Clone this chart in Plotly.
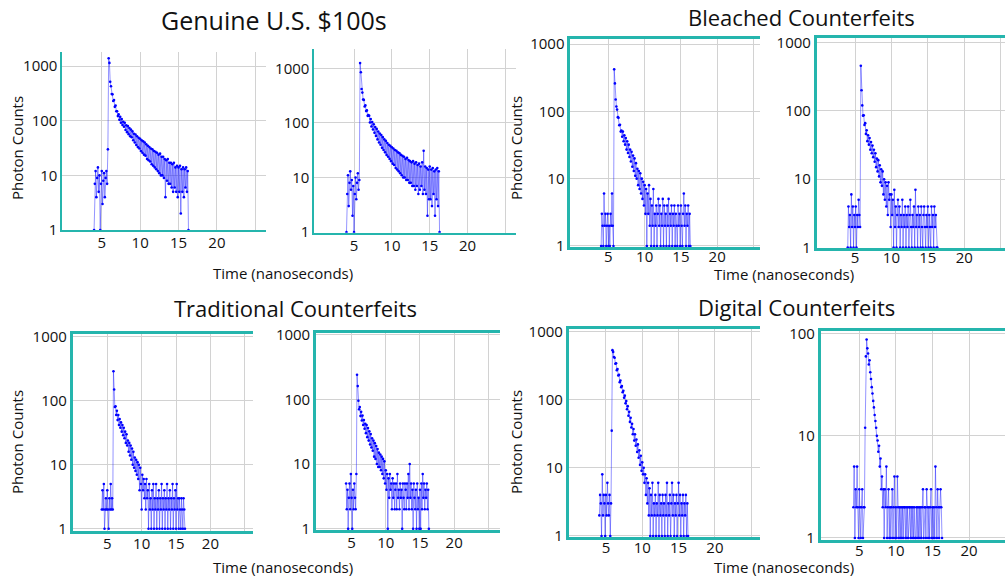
import plotly.graph_objects as go

# ---------------- data (photon counts per 0.1 ns channel) ----------------
TIME_START_NS = 4.0
TIME_STEP_NS = 0.1

genuine_a = [
    1, 7, 12, 4, 9, 14, 5, 10, 1, 7,
    12, 3, 8, 11, 4, 9, 12, 7, 30, 1400,
    1150, 520, 430, 310, 305, 230, 240, 180, 190, 150,
    150, 122, 131, 104, 118, 92, 108, 84, 96, 78,
    92, 68, 83, 62, 80, 57, 74, 52, 69, 50,
    64, 44, 58, 40, 56, 36, 52, 33, 49, 31,
    47, 28, 44, 26, 42, 24, 40, 23, 37, 20,
    35, 19, 33, 18, 31, 16, 30, 15, 28, 14,
    27, 13, 26, 12, 24, 11, 25, 10, 22, 10,
    22, 9, 20, 4, 19, 8, 20, 7, 17, 7,
    17, 6, 16, 5, 17, 6, 14, 5, 15, 4,
    14, 5, 15, 2, 13, 5, 14, 4, 13, 6,
    14, 5, 12, 1,
]
genuine_b = [
    1, 5, 11, 3, 8, 13, 6, 9, 2, 7,
    1, 5, 10, 4, 8, 12, 6, 9, 1250, 850,
    420, 360, 270, 265, 200, 210, 165, 170, 135, 140,
    135, 102, 118, 86, 104, 76, 95, 66, 84, 58,
    78, 50, 70, 44, 64, 40, 60, 35, 55, 32,
    50, 29, 47, 26, 43, 24, 40, 22, 38, 20,
    36, 18, 34, 17, 32, 15, 31, 14, 29, 13,
    28, 12, 26, 11, 25, 10, 24, 10, 22, 9,
    23, 9, 21, 8, 20, 8, 19, 7, 20, 7,
    18, 6, 19, 7, 17, 5, 18, 6, 16, 7,
    19, 5, 31, 6, 16, 5, 15, 2, 14, 4,
    16, 4, 14, 3, 15, 5, 13, 2, 14, 4,
    15, 3, 13, 1,
]
bleached_a = [
    1, 3, 2, 1, 6, 2, 3, 1, 2, 3,
    1, 2, 1, 3, 2, 6, 2, 1, 420, 260,
    150, 118, 106, 82, 80, 62, 63, 50, 52, 42,
    50, 36, 44, 32, 40, 27, 36, 24, 32, 21,
    27, 18, 25, 15, 22, 13, 20, 11, 17, 10,
    14, 8, 13, 7, 12, 6, 10, 5, 9, 4,
    8, 3, 7, 1, 6, 3, 8, 2, 5, 1,
    4, 2, 7, 1, 3, 2, 4, 1, 3, 5,
    2, 4, 1, 3, 2, 5, 1, 4, 2, 3,
    1, 4, 2, 5, 1, 3, 2, 4, 1, 3,
    2, 4, 1, 3, 2, 1, 4, 2, 3, 1,
    4, 2, 1, 3, 6, 2, 4, 1, 3, 2,
    4, 1, 3, 1,
]
bleached_b = [
    1, 4, 2, 3, 1, 6, 2, 4, 1, 3,
    2, 4, 1, 3, 2, 5, 3, 2, 455, 200,
    120, 85, 86, 62, 66, 46, 52, 36, 44, 32,
    40, 27, 35, 24, 31, 21, 27, 18, 24, 15,
    20, 13, 19, 11, 16, 9, 14, 8, 13, 6,
    10, 5, 9, 4, 8, 3, 9, 5, 6, 2,
    6, 3, 5, 1, 7, 2, 4, 1, 3, 5,
    2, 4, 1, 3, 2, 5, 1, 3, 2, 4,
    1, 3, 2, 4, 1, 3, 5, 2, 1, 3,
    2, 4, 1, 7, 2, 3, 1, 4, 2, 3,
    1, 4, 2, 1, 3, 4, 2, 1, 3, 2,
    4, 1, 3, 2, 1, 4, 2, 3, 1, 4,
    2, 3, 1, 1,
]
traditional_a = [
    None, None, 2, 4, 2, 5, 1, 2, 3, 2,
    4, 2, 1, 3, 2, 5, 2, 3, 2, 290,
    150, 80, 82, 60, 70, 50, 60, 42, 52, 38,
    46, 33, 42, 29, 38, 26, 33, 22, 30, 20,
    24, 16, 22, 14, 20, 12, 18, 10, 16, 9,
    13, 8, 12, 7, 11, 6, 10, 4, 9, 5,
    2, 7, 4, 6, 3, 5, 2, 6, 3, 4,
    1, 5, 2, 3, 1, 4, 2, 5, 1, 3,
    2, 5, 1, 3, 2, 4, 1, 3, 2, 5,
    1, 3, 2, 4, 1, 3, 2, 5, 1, 3,
    2, 4, 1, 3, 2, 5, 1, 3, 2, 4,
    1, 5, 2, 3, 1, 3, 2, 1, 3, 2,
    1, 3, 2, 1,
]
traditional_b = [
    None, None, 5, 2, 4, 1, 3, 5, 2, 7,
    3, 1, 4, 2, 5, 3, 2, 7, 240, 160,
    95, 70, 76, 55, 64, 47, 56, 40, 48, 35,
    42, 30, 40, 26, 36, 23, 32, 20, 29, 18,
    25, 16, 23, 13, 21, 12, 19, 10, 17, 9,
    15, 9, 14, 8, 13, 7, 12, 6, 11, 5,
    8, 4, 7, 1, 6, 3, 7, 4, 5, 2,
    6, 3, 5, 2, 4, 5, 2, 7, 3, 4,
    2, 5, 3, 4, 1, 5, 3, 2, 5, 4,
    2, 5, 3, 7, 2, 10, 3, 5, 2, 4,
    1, 5, 3, 2, 4, 1, 5, 2, 3, 1,
    4, 1, 5, 2, 7, 3, 5, 2, 4, 3,
    5, 2, 4, 1,
]
digital_a = [
    None, 2, 4, 3, 1, 8, 2, 4, 3, 1,
    4, 2, 6, 3, 2, 4, 1, 3, 35, 530,
    500, 420, 410, 335, 340, 270, 280, 225, 230, 180,
    190, 152, 158, 128, 134, 106, 114, 88, 95, 72,
    80, 58, 66, 47, 54, 39, 44, 31, 37, 25,
    31, 21, 26, 17, 22, 14, 18, 11, 15, 9,
    12, 8, 10, 6, 8, 4, 7, 3, 6, 2,
    5, 1, 4, 2, 6, 1, 3, 2, 4, 1,
    3, 2, 6, 1, 4, 2, 3, 1, 4, 2,
    3, 1, 4, 2, 6, 1, 3, 2, 4, 1,
    3, 6, 2, 4, 1, 3, 2, 4, 1, 3,
    6, 2, 4, 1, 3, 2, 4, 1, 3, 2,
    4, 1, 3, 1,
]
digital_b = [
    None, None, 2, 5, 1, 3, 2, 5, 2, 1,
    3, 2, 1, 2, 3, 1, 2, 2, 12, 60,
    88, 72, 64, 50, 55, 42, 36, 30, 26, 22,
    19, 16, 14, 12, 10, 9, 7, 8, 5, 6,
    3, 4, 2, 3, 1, 3, 2, 5, 1, 2,
    3, 1, 2, 1, 2, 3, 1, 2, 4, 1,
    2, 1, 4, 2, 1, 2, 1, 2, 1, 2,
    1, 2, 2, 1, 2, 1, 2, 1, 2, 2,
    1, 2, 1, 2, 1, 2, 1, 1, 2, 1,
    2, 1, 2, 1, 2, 1, 2, 3, 1, 2,
    2, 1, 3, 2, 1, 2, 1, 2, 3, 1,
    2, 1, 2, 1, 5, 2, 1, 3, 2, 1,
    2, 3, 2, 1,
]

x_tick_vals = [5, 10, 15, 20, 25]
x_tick_text = ["5", "10", "15", "20", ""]
y_tick_vals = [1, 10, 100, 1000]
y_tick_text = ["1", "10", "100", "1000"]

group_titles = ["Genuine U.S. $100s", "Bleached Counterfeits",
                "Traditional Counterfeits", "Digital Counterfeits"]
x_title = "Time (nanoseconds)"
y_title = "Photon Counts"

# ---------------- layout (pixel geometry) ----------------
W, H = 1006, 578
TEAL = "#25b5ad"
GRID = "#d2d2d2"
FONT = "Open Sans, Noto Sans, sans-serif"

series = [genuine_a, genuine_b, bleached_a, bleached_b,
          traditional_a, traditional_b, digital_a, digital_b]
# (x0px, x1px, top px, bottom px, x-range, log y-range, full box, x-label standoff)
geom = [
    (62.3, 266, 52, 230, [-0.14, 26.4], [0, 3.26], False, -2),
    (314.3, 516, 49.3, 232.7, [-0.25, 26.4], [-0.01, 3.35], False, -2),
    (570.3, 760, 39.3, 247.3, [-0.25, 25.9], [-0.02, 3.07], True, -6),
    (816.7, 1005, 38.3, 248.3, [-0.26, 25.6], [-0.01, 3.06], True, -6),
    (72.7, 253, 334.3, 530.7, [-0.03, 26.2], [-0.03, 3.04], True, -3),
    (316, 500, 332.7, 530, [-0.2, 26.7], [-0.02, 3.03], True, -3),
    (568.7, 760, 329.3, 537.3, [-0.12, 26.2], [-0.02, 3.03], True, -5),
    (820.7, 1005, 330.7, 540, [-0.27, 24.9], [-0.02, 2.03], True, -5),
]

n = len(genuine_a)
time_ns = [round(TIME_START_NS + TIME_STEP_NS * i, 2) for i in range(n)]

fig = go.Figure()
layout_axes = {}
for k, (vals, g) in enumerate(zip(series, geom), start=1):
    x0, x1, top, bot, xr, yr, box, xstand = g
    xa = "x" if k == 1 else f"x{k}"
    ya = "y" if k == 1 else f"y{k}"
    fig.add_trace(go.Scatter(
        x=time_ns, y=vals, xaxis=xa, yaxis=ya,
        mode="lines+markers",
        line=dict(color="rgba(20,20,255,0.5)", width=0.9),
        marker=dict(color="#0000ff", size=2.6),
        showlegend=False, hoverinfo="skip",
    ))
    lw = 2.6 if box else 1.8
    layout_axes["xaxis" if k == 1 else f"xaxis{k}"] = dict(
        domain=[x0 / W, x1 / W], range=xr, anchor=ya, automargin=False,
        tickvals=x_tick_vals, ticktext=x_tick_text, ticklabelstandoff=xstand,
        showgrid=True, gridcolor=GRID, gridwidth=1, zeroline=False,
        showline=True, linecolor=TEAL, linewidth=lw, mirror=box,
        ticks="", tickfont=dict(size=15, color="#111", family=FONT),
    )
    layout_axes["yaxis" if k == 1 else f"yaxis{k}"] = dict(
        domain=[1 - bot / H, 1 - top / H], range=yr, type="log", anchor=xa,
        automargin=False,
        tickvals=y_tick_vals, ticktext=y_tick_text,
        showgrid=True, gridcolor=GRID, gridwidth=1, zeroline=False,
        showline=True, linecolor=TEAL, linewidth=lw, mirror=False,
        ticks="", tickfont=dict(size=15, color="#111", family=FONT),
    )

annotations = []
def px_note(text, x, y, size, angle=0):
    annotations.append(dict(
        text=text, x=x / W, y=1 - y / H, xref="paper", yref="paper",
        xanchor="center", yanchor="middle", showarrow=False, textangle=angle,
        font=dict(size=size, color="#111", family=FONT),
    ))

title_pos = [(274, 20, 25), (801, 17, 22), (295, 308, 22), (796, 307, 22)]
for t, (x, y, s) in zip(group_titles, title_pos):
    px_note(t, x, y, s)
for (x, y) in [(283, 273), (784, 274), (283, 567), (784, 567)]:
    px_note(x_title, x, y, 15)
for (x, y) in [(17, 148), (516, 148), (17, 442), (516, 442)]:
    px_note(y_title, x, y, 15, angle=-90)

fig.update_layout(
    width=W, height=H,
    margin=dict(l=0, r=0, t=0, b=0, pad=0, autoexpand=False),
    paper_bgcolor="white", plot_bgcolor="white",
    showlegend=False, annotations=annotations, **layout_axes,
)

fig.write_html(
    "out.html",
    config={"displayModeBar": False},
    post_script="document.body.style.margin='0';document.body.style.padding='0';"
                "document.documentElement.style.overflow='hidden';",
)
